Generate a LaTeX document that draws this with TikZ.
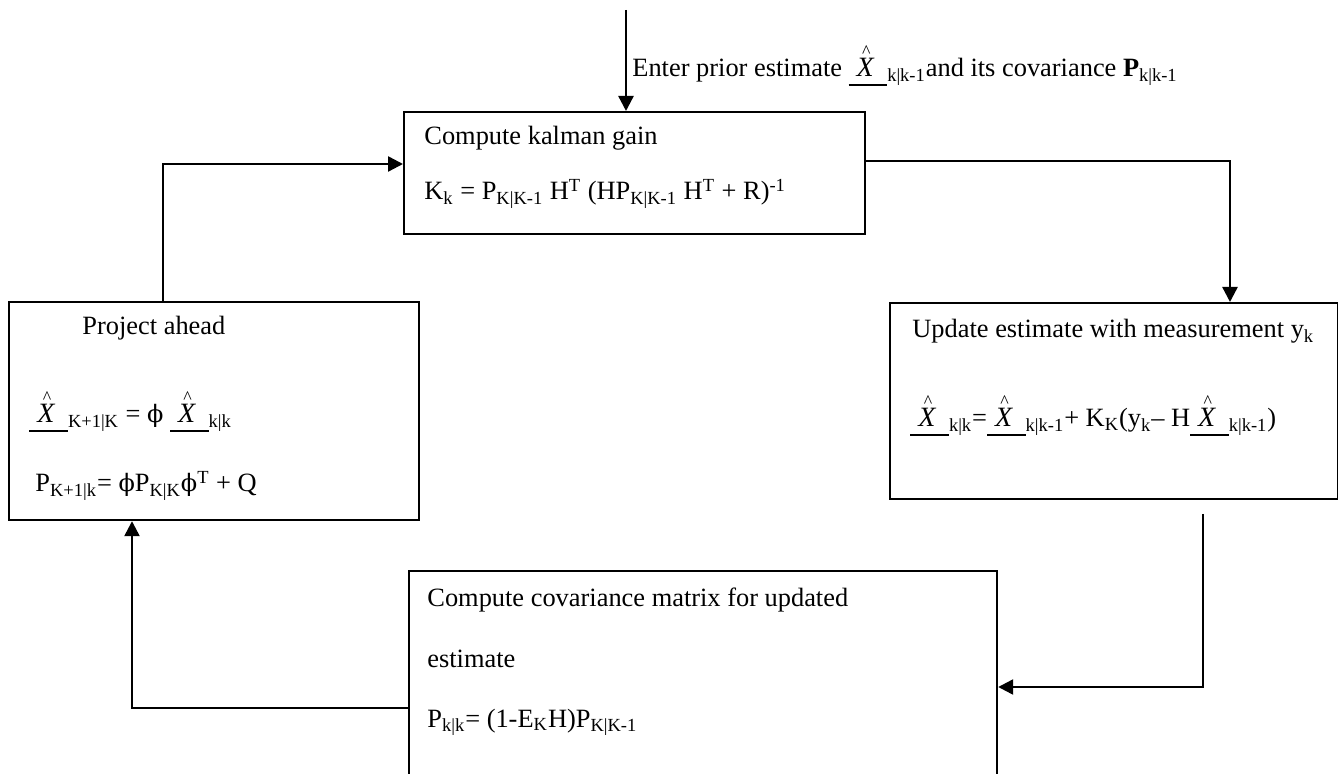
\documentclass[tikz,border=0pt]{standalone}
\usepackage{fontspec}
\setmainfont{Liberation Serif}
\newfontfamily\phf{DejaVu Serif}
\usetikzlibrary{arrows.meta}
\newcommand\fs{\fontsize{13.2}{15}\selectfont}
\newcommand\sub[1]{\textsubscript{#1}}
\newcommand\sps[1]{\textsuperscript{#1}}
\newcommand\ph{{\phf\fontsize{12}{12}\selectfont ϕ}}
\newcommand\Xh{\hbox to 19.3pt{\rlap{\rule[-4.5pt]{19.3pt}{0.8pt}}\hskip4pt{\fontsize{14}{14}\selectfont\textit{X}}\llap{\raisebox{9.6pt}{\makebox[8.4pt]{\fontsize{9}{9}\selectfont\textasciicircum}}}\hfil}}
\begin{document}
\begin{tikzpicture}[x=0.5pt,y=-0.5pt,
  box/.style={draw, line width=1.1pt, inner sep=0pt, anchor=north west},
  txt/.style={anchor=base west, inner sep=0pt, font=\fs},
  arr/.style={line width=1.2pt, -{Triangle[length=7.5pt,width=7.5pt]}}]
\useasboundingbox (0,0) rectangle (1338,774);
% boxes
\node[box, minimum width=230.5pt, minimum height=61pt] (gain) at (403,111) {};
\node[box, minimum width=205pt, minimum height=109pt] (proj) at (8,301) {};
\node[box, minimum width=224pt, minimum height=98pt] (upd) at (889,302) {};
\node[box, minimum width=294pt, minimum height=125pt] (cov) at (408,570) {};
% texts
\node[txt] (tin) at (632,77) {Enter prior estimate \Xh\sub{k|k-1}and its covariance \textbf{P}\sub{k|k-1}};
\node[txt] (g1) at (424,145) {Compute kalman gain};
\node[txt] (g2) at (424,200) {K\sub{k} = P\sub{K|K-1} H\sps{T} (HP\sub{K|K-1} H\sps{T} + R)\sps{-1}};
\node[txt] (p1) at (82,335) {Project ahead};
\node[txt] (p2) at (29,423) {\Xh\sub{K+1|K} = \ph\ \Xh\sub{k|k}};
\node[txt] (p3) at (35,492) {P\sub{K+1|k}= \ph P\sub{K|K}\ph\sps{T} + Q};
\node[txt] (u1t) at (912,338) {Update estimate with measurement y\sub{k}};
\node[txt] (u2t) at (910,427) {\Xh\sub{k|k}=\Xh\sub{k|k-1}+ K\sub{K}(y\sub{k}– H\Xh\sub{k|k-1})};
\node[txt] (c1) at (427,606) {Compute covariance matrix for updated};
\node[txt] (c2) at (427,667) {estimate};
\node[txt] (c3) at (427,727) {P\sub{k|k}= (1-E\sub{K}H)P\sub{K|K-1}};
% connectors
\coordinate (in) at (626,10);
\draw[arr] (in) -- (in |- gain.north);
\coordinate (r1) at (1230,161);
\draw[arr] (gain.east |- r1) -- (r1) -- (r1 |- upd.north);
\coordinate (d1) at (1203,514);
\coordinate (d2) at (1203,687);
\draw[arr] (d1) -- (d2) -- (d2 -| cov.east);
\coordinate (l1) at (132,708);
\draw[arr] (l1 -| cov.west) -- (l1) -- (l1 |- proj.south);
\coordinate (l2) at (163,164);
\draw[arr] (l2 |- proj.north) -- (l2) -- (l2 -| gain.west);
\end{tikzpicture}
\end{document}
